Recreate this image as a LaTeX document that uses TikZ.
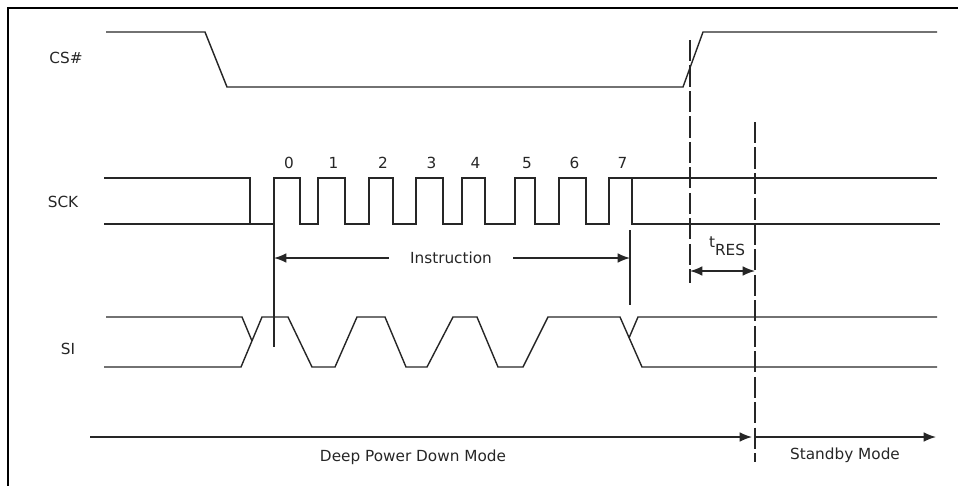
\documentclass[tikz,border=0pt]{standalone}
\usepackage{fontspec}
\setmainfont{DejaVu Sans}
\usetikzlibrary{arrows.meta}

\begin{document}
\begin{tikzpicture}[x=0.02cm, y=-0.02cm,
      sig/.style={line width=0.8pt, draw=black!85},
      frame/.style={line width=1.4pt},
      arr/.style={-{Latex[length=7pt, width=5.5pt]}, line width=0.8pt, draw=black!85},
      marker/.style={line width=0.8pt, draw=black!85, dash pattern=on 12pt off 2.5pt},
      lbl/.style={font=\fontsize{8.7}{10}\selectfont, text=black!85, inner sep=1pt}]
      \useasboundingbox (0,0) rectangle (958,485);
      \draw[frame] (8,486) -- (8,8) -- (959,8);

      \node[lbl] (cs)  at (66,58)  {CS\#};
      \node[lbl] (sck) at (63,202) {SCK};
      \node[lbl] (si)  at (68,349) {SI};

      \draw[sig] (106,32) -- (205,32) -- (227,87) -- (683,87) -- (703,32) -- (937,32);

      \draw[sig] (104,178) -- (250,178) -- (250,224);
      \draw[sig] (104,224)
        foreach \r/\f in {274/300, 318/345, 369/393, 416/443, 462/485, 515/535, 559/586, 609/632}
          { -- (\r,224) -- (\r,178) -- (\f,178) -- (\f,224) } -- (940,224);
      \draw[sig] (632,178) -- (937,178);
      \foreach \r/\f/\n in {274/300/0, 318/345/1, 369/393/2, 416/443/3, 462/485/4, 515/535/5, 559/586/6, 609/632/7}
        \node[lbl] (bit\n) at ({(\r+\f)/2+2},163) {\n};

      \draw[sig] (106,317) -- (242,317) -- (252,341);
      \draw[sig] (104,367) -- (241,367) -- (262,317) -- (288,317) -- (312,367) -- (335,367)
        -- (357,317) -- (385,317) -- (406,367) -- (427,367) -- (453,317) -- (477,317)
        -- (498,367) -- (523,367) -- (548,317) -- (620,317) -- (642,367) -- (937,367);
      \draw[sig] (629,338) -- (638,317) -- (937,317);

      \coordinate (instrL) at (274,258);
      \coordinate (instrR) at (630,258);
      \draw[sig] (274,224) -- (274,347);
      \draw[sig] (630,230) -- (630,305);
      \node[lbl, inner xsep=12pt] (instr) at (451,258) {Instruction};
      \draw[arr] (instr) -- (instrL);
      \draw[arr] (instr) -- (instrR);

      \draw[marker] (690,40) -- (690,283);
      \draw[marker] (755,122) -- (755,462);
      \coordinate (tresL) at (690,271);
      \coordinate (tresR) at (755,271);
      \draw[arr, {Latex[length=7pt, width=5.5pt]}-{Latex[length=7pt, width=5.5pt]}] (tresL) -- (tresR);
      \node[lbl] (tres) at (727,246) {t\raisebox{-4.5pt}{RES}};

      \coordinate (dpdL) at (90,437);
      \coordinate (dpdR) at (752,437);
      \coordinate (sbyL) at (755,437);
      \coordinate (sbyR) at (936,437);
      \draw[arr] (dpdL) -- (dpdR);
      \draw[arr] (sbyL) -- (sbyR);
      \node[lbl] (dpd) at (413,457) {Deep Power Down Mode};
      \node[lbl] (sby) at (845,455) {Standby Mode};
    \end{tikzpicture}
\end{document}
